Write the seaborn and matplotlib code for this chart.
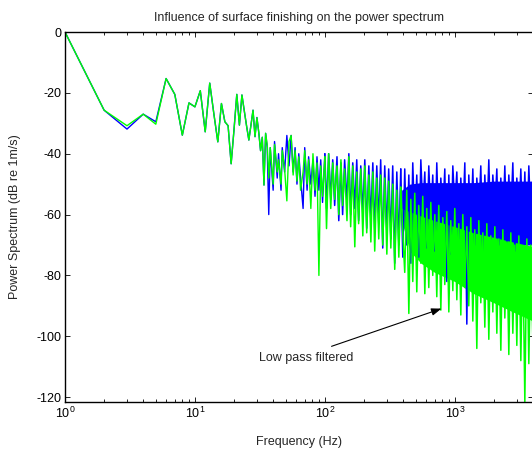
import matplotlib
matplotlib.use("Agg")
import matplotlib.pyplot as plt
import numpy as np
import pandas as pd
import seaborn as sns

# ---------------- data ----------------
freq_low = list(range(1, 37))
blue_low = [0, -25.7, -31.9, -27.0, -29.5, -15.3, -20.5, -33.9, -23.3, -24.6,
            -19.3, -32.8, -16.8, -27.0, -36.1, -23.5, -29.5, -30.8, -43.3, -32.0,
            -20.5, -30.6, -20.7, -26.0, -31.0, -35.5, -30.6, -25.7, -34.4, -28.1,
            -33.0, -39.0, -34.6, -50.3, -33.3, -38.0]
green_low = [0, -25.7, -30.8, -27.0, -30.3, -15.3, -20.5, -33.9, -23.3, -24.6,
             -19.3, -32.8, -16.8, -27.0, -36.1, -23.5, -29.5, -30.8, -43.3, -32.0,
             -20.5, -30.6, -20.7, -26.0, -31.0, -35.5, -30.6, -25.7, -34.4, -28.1,
             -33.0, -39.0, -34.6, -50.3, -33.3, -37.0]

freq_high = [37, 38, 40, 41, 43, 44, 46, 47, 49, 51,
             53, 55, 57, 59, 61, 63, 65, 68, 70, 73,
             75, 78, 81, 84, 87, 90, 93, 96, 100, 103,
             107, 111, 115, 119, 124, 128, 133, 137, 142, 148,
             153, 158, 164, 170, 176, 182, 189, 196, 203, 210,
             218, 226, 234, 242, 251, 260, 269, 279, 289, 300,
             310, 322, 333, 345, 358, 371, 384, 398, 412, 427,
             443, 459, 475, 492, 510, 528, 548, 567, 588, 609,
             631, 654, 677, 702, 727, 753, 781, 809, 838, 868,
             900, 932, 966, 1000, 1037, 1074, 1113, 1153, 1195, 1238,
             1282, 1329, 1377, 1426, 1478, 1531, 1586, 1644, 1703, 1765,
             1828, 1894, 1963, 2034, 2107, 2183, 2262, 2344, 2428, 2516,
             2606, 2700, 2798, 2899, 3003, 3112, 3224, 3340, 3461, 3586,
             3715, 3849, 4000]
blue_high = [-60, -38, -52, -36, -48, -40, -52, -38, -46, -34,
             -44, -34, -46, -38, -50, -40, -48, -58, -38, -52,
             -41, -50, -42, -54, -41, -52, -42, -56, -40, -58,
             -40, -55, -42, -57, -41, -62, -43, -60, -42, -56,
             -40, -60, -43, -58, -42, -62, -44, -60, -42, -64.5,
             -44, -62, -43, -65, -44, -63, -42, -71, -44, -66,
             -45, -68, -44, -76, -46, -70, -45, -74, -45, -70,
             -47, -76, -43, -64, -47, -74, -42, -58, -46, -71,
             -44, -62, -47, -72, -43, -66, -48, -60, -45, -82,
             -47, -73, -44, -58, -46, -68, -48, -62, -43, -96,
             -47, -65, -45, -70, -48, -60, -44, -72, -47, -63,
             -42, -68, -47, -59, -45, -70, -48, -64, -44, -69,
             -47, -61, -43, -72, -48, -62, -45, -67, -46, -70,
             -44, -63, -47]
green_high = [-48, -38, -50, -37, -46, -42, -50, -39, -45, -55.5,
              -36, -34, -47, -39, -49, -41, -52, -46, -39, -50,
              -42, -58, -40, -52, -43, -80, -44, -54, -41, -64.6,
              -40, -58, -43, -55, -44, -60, -42, -57, -45, -62,
              -41, -64, -44, -70.6, -46, -63, -45, -67, -44, -66,
              -47, -69, -46, -72, -48, -68, -47, -70, -48, -73,
              -49, -71, -50, -78, -52, -74, -51, -66, -79, -52,
              -92.5, -55, -82, -53, -85.4, -57, -76, -54, -86, -58,
              -84, -56, -80, -60, -87, -57, -91.4, -61, -83, -59,
              -92, -62, -85, -58, -88, -63, -93, -60, -84, -64,
              -90, -61, -95, -65, -104, -62, -89, -66, -97, -63,
              -101, -67, -92, -64, -99, -68, -104.6, -65, -94, -69,
              -106, -66, -99, -70, -103, -67, -108, -71, -121.5, -68,
              -109, -70, -104]

# solid core of the dense high-frequency band (edges)
band_freq = [390, 450, 550, 700, 1000, 1400, 2000, 2800, 4000]
blue_core_top = [-52, -50, -49.5, -49.5, -49.5, -49.5, -49, -49, -49]
blue_core_bot = [-58, -62, -64, -66, -68, -69, -70, -70, -70]
green_core_top = [-58, -59, -60.5, -62, -64, -66, -67.5, -69, -70.5]
green_core_bot = [-62, -72, -76, -79, -82, -86, -89, -92, -95]

title = "Influence of surface finishing on the power spectrum"
xlabel = "Frequency (Hz)"
ylabel = "Power Spectrum (dB re 1m/s)"
note = "Low pass filtered"
yticks = [-120, -100, -80, -60, -40, -20, 0]

# ---------------- figure ----------------
sns.set_style("ticks")
plt.rcParams["font.family"] = ["Liberation Sans", "DejaVu Sans"]
plt.rcParams["axes.unicode_minus"] = False
plt.rcParams["mathtext.default"] = "regular"

W, H = 532, 449
fig = plt.figure(figsize=(W / 100, H / 100), dpi=100)
ax = fig.add_axes([65 / W, 1 - 401.7 / H, 468 / W, (401.7 - 32) / H])

f_all = freq_low + freq_high
series = [("#0000ff", blue_low + blue_high, blue_core_top, blue_core_bot),
          ("#00ff00", green_low + green_high, green_core_top, green_core_bot)]

n_low = len(freq_low)
i100 = n_low + freq_high.index(100)
i384 = n_low + freq_high.index(384)
segments = [(0, i100 + 1, 1.0), (i100, i384 + 1, 1.1), (i384, len(f_all), 1.1)]

for color, vals, ctop, cbot in series:
    ax.fill_between(band_freq, ctop, cbot, color=color, lw=0)
    for a, b, lw in segments:
        df = pd.DataFrame({"freq": f_all[a:b], "power": vals[a:b]})
        sns.lineplot(data=df, x="freq", y="power", color=color, lw=lw,
                     estimator=None, sort=False, ax=ax, legend=False)

ax.set_xscale("log")
ax.set_xlim(1, 4000)
ax.set_ylim(-121.5, 0)
ax.set_yticks(yticks)
ax.set_yticklabels([str(t) for t in yticks])

for s in ax.spines.values():
    s.set_visible(True)
    s.set_color("black")
    s.set_linewidth(1.0)

ax.tick_params(which="both", direction="in", top=True, right=True,
               colors="black", labelsize=9, width=0.6)
ax.tick_params(which="major", length=3.5)
ax.tick_params(which="minor", length=2.0)
ax.tick_params(axis="y", pad=2.5)
ax.tick_params(axis="x", pad=3)

ax.set_title(title, fontsize=9, pad=8)
ax.set_xlabel(xlabel, fontsize=9)
ax.set_ylabel(ylabel, fontsize=9)
ax.xaxis.set_label_coords(0.5, -0.094)
ax.yaxis.set_label_coords(-0.093, 0.5)

ax.annotate("", xy=(790, -90.9), xytext=(112.6, -103.3),
            arrowprops=dict(arrowstyle="-|>,head_length=0.6,head_width=0.22",
                            color="black", lw=0.8, shrinkA=0, shrinkB=0))
ax.text(31, -107.2, note, fontsize=9, ha="left", va="center")

fig.savefig("out.png", dpi=100)
